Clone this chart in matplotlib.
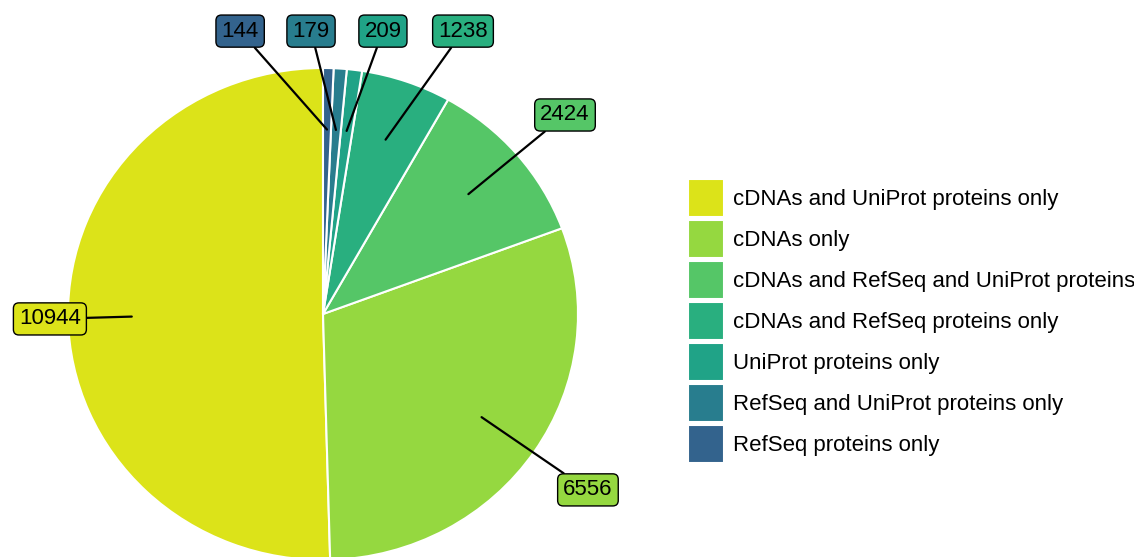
import numpy as np
import matplotlib
matplotlib.use("Agg")
import matplotlib.pyplot as plt

plt.rcParams["font.family"] = ["Liberation Sans", "DejaVu Sans"]

# data (counterclockwise from 12 o'clock)
categories = [
    "cDNAs and UniProt proteins only",
    "cDNAs only",
    "cDNAs and RefSeq and UniProt proteins",
    "cDNAs and RefSeq proteins only",
    "UniProt proteins only",
    "RefSeq and UniProt proteins only",
    "RefSeq proteins only",
]
counts = [10944, 6556, 2424, 1238, 209, 179, 144]
colors = ["#DCE319", "#95D840", "#55C667", "#29AF7F", "#20A387", "#287D8E", "#33638D"]

# where each label box sits (pie radius = 1)
label_pos = [(-1.071, -0.02), (1.039, -0.715), (0.949, 0.809),
             (0.549, 1.15), (0.235, 1.15), (-0.047, 1.15), (-0.325, 1.15)]

fig = plt.figure(figsize=(11.34, 5.57), dpi=100)
ax = fig.add_axes([0, 0, 1, 1])

wedges, _ = ax.pie(counts, colors=colors, startangle=90, counterclock=True,
                   radius=1, wedgeprops=dict(edgecolor="white", linewidth=1.5))

for w, v, col, (lx, ly) in zip(wedges, counts, colors, label_pos):
    mid = np.deg2rad((w.theta1 + w.theta2) / 2)
    ax.annotate(str(v), xy=(0.75 * np.cos(mid), 0.75 * np.sin(mid)),
                xytext=(lx, ly), ha="center", va="center", fontsize=16,
                bbox=dict(boxstyle="round,pad=0.25,rounding_size=0.25",
                          fc=col, ec="black", lw=1),
                arrowprops=dict(arrowstyle="-", color="black", lw=1.6,
                                shrinkA=0, shrinkB=0))

# pie is a touch wider than tall in the original
ax.set_aspect("auto")
ax.set_xlim(-323 / 255, 811 / 255)
ax.set_ylim(-243 / 246, 314 / 246)
ax.axis("off")

fig.legend(wedges, categories, loc="center left",
           bbox_to_anchor=(688 / 1134, 1 - 321 / 557), frameon=False,
           fontsize=16, handlelength=1.62, handleheight=2.25,
           labelspacing=0.14, handletextpad=0.4, borderpad=0, borderaxespad=0)

fig.savefig("out.png", dpi=100)
